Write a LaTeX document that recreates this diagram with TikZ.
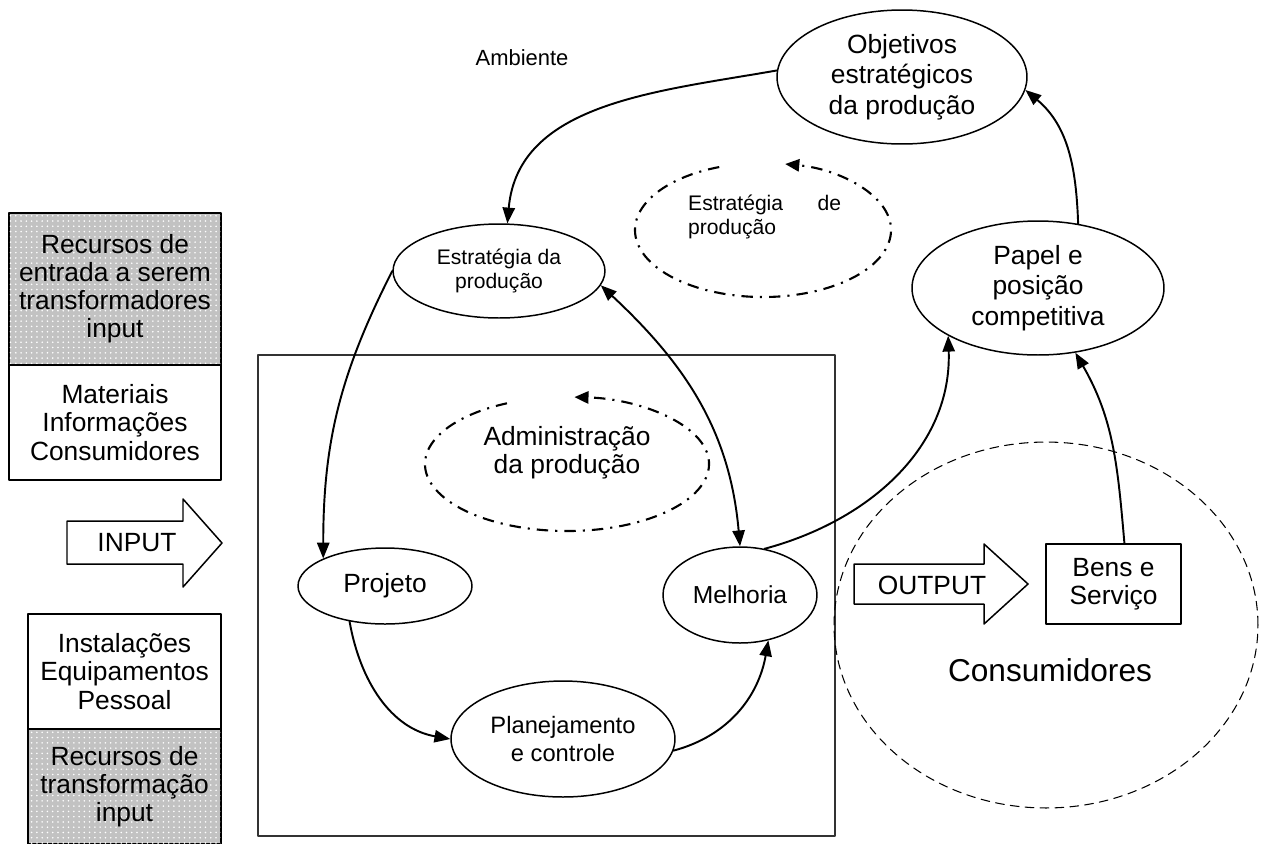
\documentclass[tikz,border=0pt]{standalone}
\usepackage{fontspec}
\setmainfont{Liberation Sans}
\usetikzlibrary{arrows.meta,shapes.geometric,patterns}

\begin{document}
\begin{tikzpicture}[x=0.02cm, y=0.02cm, line join=round, line cap=round,
	fnt/.style={font=\fontsize{15}{16}\selectfont},
	fntg/.style={font=\fontsize{15}{17.5}\selectfont},
	fntp/.style={font=\fontsize{12}{13.2}\selectfont},
	elip/.style={draw, ellipse, line width=0.85pt, inner sep=0pt, align=center},
	caixa/.style={draw, rectangle, line width=0.85pt, inner sep=0pt, align=center, fnt},
	cinza/.style={caixa, fill=black!24, postaction={pattern=dots, pattern color=white}},
	bloco/.style={draw, line width=0.85pt, fill=white},
	seta/.style={line width=1.1pt, -{Triangle[length=9pt,width=7pt]}},
	setadupla/.style={line width=1.1pt, {Triangle[length=9pt,width=7pt]}-{Triangle[length=9pt,width=7pt]}},
	tracoponto/.style={line width=1.2pt, line cap=butt, dash pattern=on 6.5pt off 4pt on 1.2pt off 4pt, -{Triangle[length=8pt,width=7pt]}}]
	\useasboundingbox (0,0) rectangle (1267,-843);
	% recursos de entrada e de transformacao
	\node[cinza, minimum width=4.24cm, minimum height=3.04cm] (ent) at (115,-289) {Recursos de\\entrada a serem\\transformadores\\input};
	\node[caixa, minimum width=4.24cm, minimum height=2.3cm] (mat) at (115,-422.5) {Materiais\\Informações\\Consumidores};
	\node[caixa, minimum width=3.86cm, minimum height=2.3cm] (inst) at (124.5,-671.5) {Instalações\\Equipamentos\\Pessoal};
	\node[cinza, minimum width=3.86cm, minimum height=2.3cm] (transf) at (124.5,-786.5) {Recursos de\\transformação\\input};
	\draw[bloco] (67,-521) -- (183,-521) -- (183,-499) -- (222,-543) -- (183,-587) -- (183,-564) -- (67,-564) -- cycle;
	\node[fnt] (input) at (137,-543) {INPUT};
	% sistema de producao
	\draw[line width=0.85pt, black!80] (258,-355) rectangle (835,-836);
	\node[draw, ellipse, line width=0.6pt, dash pattern=on 5pt off 3.5pt, minimum width=8.48cm, minimum height=7.32cm] (cons) at (1046,-625) {};
	\node[font=\fontsize{18}{20}\selectfont] (consl) at (1050,-670) {Consumidores};
	\draw[bloco] (854,-564) -- (984,-564) -- (984,-544) -- (1028,-584) -- (984,-624) -- (984,-604) -- (854,-604) -- cycle;
	\node[fnt] (output) at (932,-585) {OUTPUT};
	\node[caixa, minimum width=2.7cm, minimum height=1.6cm] (bens) at (1113.5,-584) {Bens e\\Serviço};
	\node[font=\fontsize{12.5}{15}\selectfont] (amb) at (522,-58) {Ambiente};
	% elipses
	\node[elip, fntg, minimum width=5cm, minimum height=2.68cm] (obj) at (902,-77) {Objetivos\\estratégicos\\da produção};
	\node[elip, fntg, minimum width=5.04cm, minimum height=2.68cm] (papel) at (1038,-288) {Papel e\\posição\\competitiva};
	\node[elip, fntp, minimum width=4.24cm, minimum height=1.88cm] (est) at (499,-271) {Estratégia da\\produção};
	\node[elip, fnt, minimum width=3.48cm, minimum height=1.52cm] (proj) at (385,-586) {Projeto};
	\node[elip, font=\fontsize{14}{15.4}\selectfont, minimum width=3.08cm, minimum height=1.92cm] (melh) at (740,-595) {Melhoria};
	\node[elip, font=\fontsize{13.5}{16}\selectfont, minimum width=4.48cm, minimum height=2.32cm] (plan) at (563,-739) {Planejamento\\e controle};
	% ciclos traco-ponto
	\draw[tracoponto] ([shift={(110:128 and 67)}]763,-230) arc[start angle=110, end angle=440, x radius=128, y radius=67];
	\node[fntp, align=left, anchor=west] (estp) at (682,-217) {\makebox[3.06cm][s]{Estratégia de}\\produção};
	\draw[tracoponto] ([shift={(115:142 and 67)}]567,-464) arc[start angle=115, end angle=447, x radius=142, y radius=67];
	\node[fnt, align=center] (adm) at (567,-453) {Administração\\da produção};
	% ligacoes
	\draw[seta] (obj.177) to[out=190, in=85] (est.80);
	\draw[seta] (est.west) to[out=243, in=90] (proj.156);
	\draw[setadupla] (est.-8) to[out=-43, in=95] (melh.north);
	\draw[seta] (proj.225) to[out=-80, in=170] (plan.west);
	\draw[seta] (plan.-6) to[out=15, in=-100] (melh.-58);
	\draw[seta] (melh.62) to[out=15, in=-88] (papel.208);
	\draw[seta] (bens.75) to[out=95, in=-60] (papel.-60);
	\draw[seta] (papel.58) to[out=92, in=-40] (obj.-6);
\end{tikzpicture}
\end{document}
